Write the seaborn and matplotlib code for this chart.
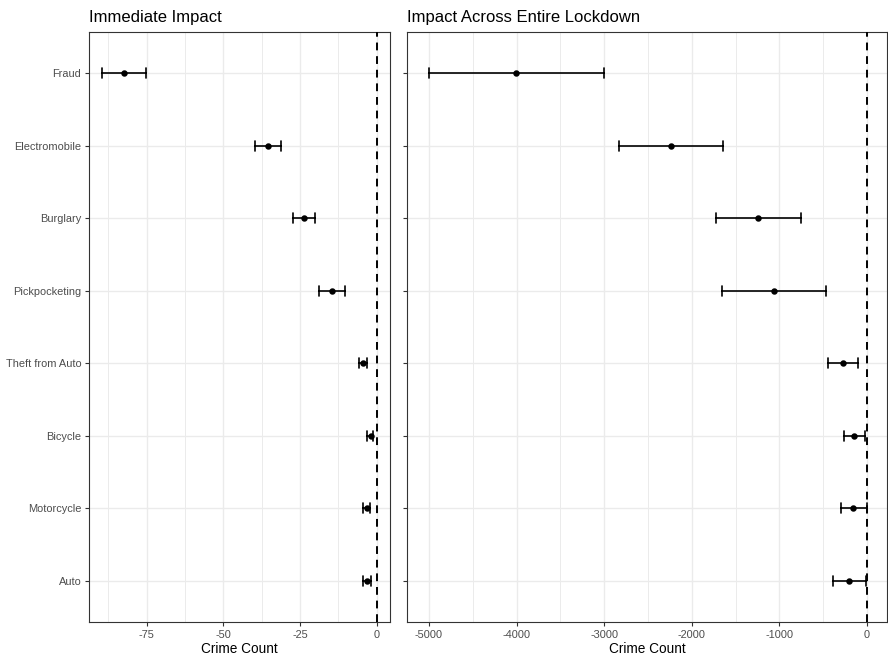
import numpy as np
import pandas as pd
import matplotlib
matplotlib.use("Agg")
import matplotlib.pyplot as plt
import seaborn as sns

categories = ["Fraud", "Electromobile", "Burglary", "Pickpocketing",
              "Theft from Auto", "Bicycle", "Motorcycle", "Auto"]

imm_est = [-82.3, -35.4, -23.7, -14.5, -4.4, -2.0, -3.3, -3.2]
imm_lo = [-89.5, -39.8, -27.2, -18.8, -5.7, -3.0, -4.4, -4.6]
imm_hi = [-75.2, -31.2, -20.1, -10.3, -3.2, -1.1, -2.1, -1.7]

tot_est = [-4005, -2237, -1244, -1065, -274, -145, -156, -202]
tot_lo = [-5000, -2831, -1724, -1655, -442, -266, -297, -384]
tot_hi = [-3006, -1647, -753, -471, -103, -23, -4, -15]

left_ticks = [-75, -50, -25, 0]
right_ticks = [-5000, -4000, -3000, -2000, -1000, 0]


def long_frame(est, lo, hi):
    rows = []
    for c, e, l, h in zip(categories, est, lo, hi):
        for v in (l, e, h):
            rows.append({"crime": c, "value": v})
    return pd.DataFrame(rows)


sns.set_theme(style="white")
plt.rcParams["font.family"] = ["Liberation Sans", "DejaVu Sans"]

fig = plt.figure(figsize=(8.88, 6.59), dpi=100)
W, H = 888, 659
ax1 = fig.add_axes([89 / W, 1 - 622 / H, (390 - 89) / W, (622 - 32) / H])
ax2 = fig.add_axes([407 / W, 1 - 622 / H, (887 - 407) / W, (622 - 32) / H])

grid_col = "#EBEBEB"
border_col = "#333333"
label_col = "#4D4D4D"

panels = [
    (ax1, long_frame(imm_est, imm_lo, imm_hi), (-93.8, 4.34), left_ticks, 12.5,
     "Immediate Impact"),
    (ax2, long_frame(tot_est, tot_lo, tot_hi), (-5251, 228), right_ticks, 500,
     "Impact Across Entire Lockdown"),
]

for i, (ax, df, xlim, ticks, minor_step, title) in enumerate(panels):
    ax.set_facecolor("white")
    sns.pointplot(
        data=df, x="value", y="crime", order=categories, orient="h",
        estimator="median", errorbar=lambda s: (s.min(), s.max()),
        linestyle="none", color="black", markersize=2.6, capsize=0.14,
        err_kws={"linewidth": 1.2}, ax=ax, zorder=5,
    )
    ax.axvline(0, color="black", linestyle=(0, (4, 3)), linewidth=1.4, zorder=4)
    ax.set_xlim(*xlim)
    ax.set_ylim(len(categories) - 1 + 0.57, -0.57)
    ax.set_xticks(ticks)
    ax.set_xticklabels([str(t) for t in ticks])
    minors = np.arange(ticks[0] - minor_step, xlim[1], 2 * minor_step)
    ax.set_xticks([m for m in minors if xlim[0] < m < xlim[1]], minor=True)
    ax.grid(True, which="major", color=grid_col, linewidth=1.0, zorder=0)
    ax.grid(True, which="minor", axis="x", color=grid_col, linewidth=0.7, zorder=0)
    ax.set_axisbelow(True)
    for sp in ax.spines.values():
        sp.set_visible(True)
        sp.set_color(border_col)
        sp.set_linewidth(0.8)
    ax.tick_params(axis="both", which="major", length=3, width=0.8, color=border_col,
                   labelsize=7.9, labelcolor=label_col, pad=2.5, left=True, bottom=True)
    ax.tick_params(axis="x", which="minor", length=0)
    ax.set_xlabel("Crime Count", fontsize=9.8, color="black", labelpad=2)
    ax.set_ylabel("")
    if i == 1:
        ax.set_yticklabels([])
    ax.set_title(title, loc="left", fontsize=12, color="black", pad=7)

fig.savefig("out.png", dpi=100)
